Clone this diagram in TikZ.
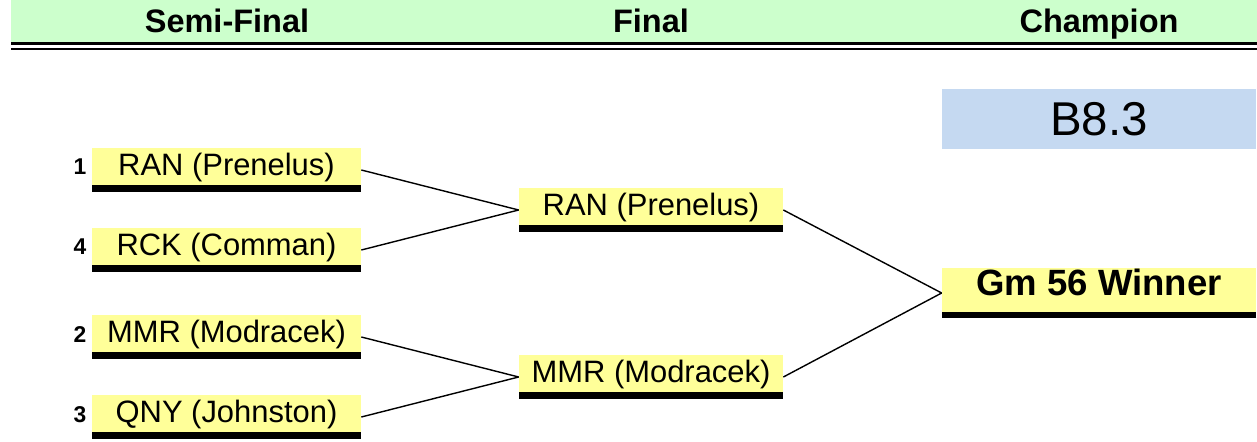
\documentclass[tikz,border=0pt]{standalone}
\usepackage{fontspec}
\setmainfont{Liberation Sans}
\newlength\pxu
\setlength\pxu{0.02cm}
\definecolor{headgreen}{RGB}{204,255,204}
\definecolor{slotyellow}{RGB}{255,255,153}
\definecolor{codeblue}{RGB}{197,217,241}
\tikzset{
  slot/.style={fill=slotyellow, inner sep=0pt, minimum width=269\pxu,
    text height=27.5\pxu, text depth=16.5\pxu, font=\fontsize{17.6}{20}\selectfont,
    path picture={\fill [black] (path picture bounding box.south west) rectangle ([yshift=7\pxu]path picture bounding box.south east);}},
  seed/.style={anchor=base, inner sep=0pt, font=\bfseries\fontsize{13}{15}\selectfont},
  roundhead/.style={anchor=base, inner sep=0pt, font=\bfseries\fontsize{18.5}{22}\selectfont},
  link/.style={line width=0.8pt}
}
\begin{document}
\begin{tikzpicture}[x=0.02cm,y=-0.02cm]
    \useasboundingbox (0,0) rectangle (1257,442);
    \fill [headgreen] (11,0) rectangle (1257,42);
    \fill (11,42) rectangle (1257,45);
    \fill (11,48) rectangle (1257,50);
    \node [roundhead] (hsemi) at (227,33) {Semi-Final};
    \node [roundhead] (hfinal) at (651,33) {Final};
    \node [roundhead] (hchamp) at (1099,33) {Champion};

    \node [slot] (sf1) at (226.5,170) {RAN (Prenelus)};
    \node [slot] (sf4) at (226.5,250) {RCK (Comman)};
    \node [slot] (sf2) at (226.5,337) {MMR (Modracek)};
    \node [slot] (sf3) at (226.5,417) {QNY (Johnston)};
    \node [seed] (n1) at (80,175) {1};
    \node [seed] (n4) at (80,255) {4};
    \node [seed] (n2) at (80,342) {2};
    \node [seed] (n3) at (80,422) {3};

    \node [slot,minimum width=264\pxu] (fin1) at (651,210) {RAN (Prenelus)};
    \node [slot,minimum width=264\pxu] (fin2) at (651,377) {MMR (Modracek)};

    \node [slot,minimum width=314\pxu,text height=27\pxu,text depth=23\pxu,
      font=\bfseries\fontsize{20.8}{24}\selectfont,
      path picture={\fill [black] (path picture bounding box.south west) rectangle ([yshift=6\pxu]path picture bounding box.south east);}]
      (champ) at (1099,293) {Gm 56 Winner};
    \node [fill=codeblue, inner sep=0pt, minimum width=314\pxu, minimum height=60\pxu,
      font=\fontsize{27}{30}\selectfont] (gamecode) at (1099,119) {B8.3};

    \draw [link] (sf1.east) -- (fin1.west);
    \draw [link] (sf4.east) -- (fin1.west);
    \draw [link] (sf2.east) -- (fin2.west);
    \draw [link] (sf3.east) -- (fin2.west);
    \draw [link] (fin1.east) -- (champ.west);
    \draw [link] (fin2.east) -- (champ.west);
\end{tikzpicture}
\end{document}
